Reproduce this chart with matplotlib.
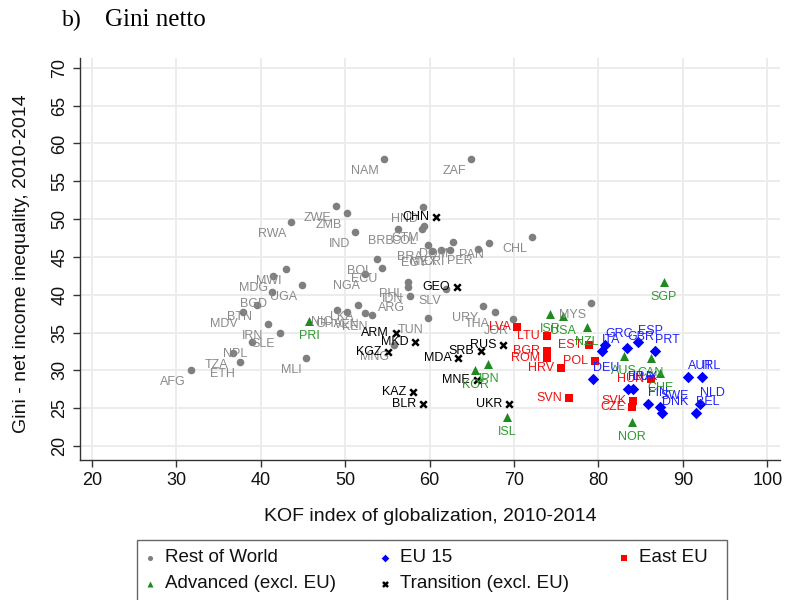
import matplotlib
matplotlib.use('agg')
import matplotlib.pyplot as plt
from matplotlib.patches import Rectangle

# KOF globalization index vs. net Gini, country averages 2010-2014
# Rest of World
row_names = ['AFG', 'TZA', 'ETH', 'NPL', 'MDV', 'BTN', 'IRN', 'SLE', 'BGD', 'MDG',
             'MWI', 'UGA', 'MLI', 'RWA', 'ZWE', 'ZMB', 'IND', 'NAM', 'ZAF', 'HND',
             'BRB', 'COL', 'GTM', 'BRA', 'EGY', 'MEX', 'CRI', 'DOM', 'PER', 'PAN',
             'CHL', 'BOL', 'ECU', 'NGA', 'PHL', 'IDN', 'ARG', 'SLV', 'URY', 'THA',
             'JOR', 'MYS', 'TUN', 'MNG', 'NIC', 'GHA', 'LKA', 'VEN', 'KEN']
row_kof = [31.7, 36.7, 37.5, 39.0, 37.9, 39.5, 40.9, 42.3, 41.3, 41.4,
           43.0, 44.9, 45.4, 43.6, 48.9, 50.2, 51.2, 54.6, 64.9, 59.2,
           56.3, 59.1, 59.3, 59.8, 60.3, 61.4, 62.4, 62.8, 65.7, 67.0,
           72.1, 53.8, 54.4, 52.3, 57.4, 57.4, 57.7, 61.9, 66.3, 67.7,
           69.9, 79.1, 59.8, 55.8, 49.0, 50.2, 51.5, 52.3, 53.2]
row_gini = [30.0, 32.3, 31.1, 33.8, 37.7, 38.7, 36.1, 35.0, 40.3, 42.5,
            43.4, 41.3, 31.6, 49.6, 51.7, 50.8, 48.3, 58.0, 58.0, 51.6,
            48.7, 48.7, 49.1, 46.6, 45.8, 45.9, 45.9, 47.0, 46.0, 46.8,
            47.6, 44.7, 43.6, 42.8, 41.7, 41.0, 39.8, 40.7, 38.5, 37.7,
            36.8, 38.9, 36.9, 33.3, 38.0, 37.7, 38.6, 37.6, 37.3]

# EU 15
eu15_names = ['DEU', 'ITA', 'GRC', 'GBR', 'ESP', 'PRT', 'FRA', 'LUX', 'AUT', 'IRL',
              'FIN', 'SWE', 'DNK', 'NLD', 'BEL']
eu15_kof = [79.4, 80.4, 80.8, 83.4, 84.7, 86.7, 83.5, 84.1, 90.6, 92.3,
            85.9, 87.3, 87.5, 92.0, 91.6]
eu15_gini = [28.9, 32.6, 33.3, 32.9, 33.8, 32.6, 27.6, 27.6, 29.1, 29.1,
             25.5, 25.1, 24.4, 25.5, 24.3]

# East EU
east_names = ['LVA', 'LTU', 'BGR', 'ROM', 'HRV', 'EST', 'POL', 'SVN', 'SVK', 'CZE', 'HUN']
east_kof = [70.4, 73.9, 73.9, 73.9, 75.6, 78.9, 79.6, 76.5, 84.1, 84.0, 86.2]
east_gini = [35.8, 34.5, 32.6, 31.7, 30.3, 33.3, 31.3, 26.3, 25.9, 25.1, 28.8]

# Advanced (excl. EU)
adv_names = ['SGP', 'ISR', 'USA', 'NZL', 'AUS', 'CAN', 'CHE', 'NOR', 'ISL', 'JPN', 'KOR', 'PRI']
adv_kof = [87.7, 74.3, 75.8, 78.6, 83.0, 86.2, 87.3, 84.0, 69.2, 66.9, 65.4, 45.7]
adv_gini = [41.7, 37.4, 37.2, 35.7, 31.9, 31.6, 29.7, 23.2, 23.9, 30.8, 30.0, 36.5]

# Transition (excl. EU)
tr_names = ['CHN', 'GEO', 'ARM', 'MKD', 'KGZ', 'MDA', 'SRB', 'RUS', 'KAZ', 'BLR', 'MNE', 'UKR']
tr_kof = [60.8, 63.2, 56.0, 58.3, 55.1, 63.4, 66.1, 68.7, 58.0, 59.2, 65.6, 69.4]
tr_gini = [50.3, 41.0, 34.9, 33.8, 32.4, 31.7, 32.6, 33.3, 27.1, 25.5, 28.7, 25.5]

legend_labels = ['Rest of World', 'EU 15', 'East EU', 'Advanced (excl. EU)', 'Transition (excl. EU)']

# label placement (offset points, alignment) like Stata clock positions
lab_pos = {
    7: dict(xytext=(-3.5, -8.6), ha='right', va='center'),
    9: dict(xytext=(-5.0, 0.0), ha='right', va='center'),
    6: dict(xytext=(0.0, -10.8), ha='center', va='center'),
    1: dict(xytext=(0.0, 8.0), ha='left', va='center'),
}

sty_row = dict(marker='o', s=30, c='#7f7f7f', lw=0)
sty_tr = dict(marker='x', s=22, c='black', lw=1.8)
sty_adv = dict(marker='^', s=42, c='#1f8a1f', lw=0)
sty_east = dict(marker='s', s=40, c='#ff0000', lw=0)
sty_eu = dict(marker='D', s=34, c='#0000ff', lw=0)

groups = [
    (row_names, row_kof, row_gini, sty_row, '#8a8a8a', 7),
    (tr_names, tr_kof, tr_gini, sty_tr, 'black', 9),
    (adv_names, adv_kof, adv_gini, sty_adv, '#2e9a2e', 6),
    (east_names, east_kof, east_gini, sty_east, '#ee1111', 9),
    (eu15_names, eu15_kof, eu15_gini, sty_eu, '#2222ff', 1),
]

plt.rcParams['font.family'] = ['Liberation Sans', 'DejaVu Sans']

fig = plt.figure(figsize=(7.87, 6.0), dpi=100)
ax = fig.add_axes([80/787, 140/600, 700/787, 402/600])

for names, xs, ys, mk, tcol, pos in groups:
    ax.scatter(xs, ys, zorder=3, **mk)
    for n, x, y in zip(names, xs, ys):
        ax.annotate(n, (x, y), textcoords='offset points', fontsize=9,
                    color=tcol, zorder=4, **lab_pos[pos])

ax.set_xlim(18.58, 101.5)
ax.set_ylim(18.15, 71.3)
ax.set_xticks(range(20, 101, 10))
ax.set_yticks(range(20, 71, 5))
ax.grid(True, color='#ebebeb', lw=1.3, zorder=0)
ax.set_axisbelow(True)
for sp in ['top', 'right']:
    ax.spines[sp].set_visible(False)
for sp in ['left', 'bottom']:
    ax.spines[sp].set_color('#333333')
    ax.spines[sp].set_linewidth(1.0)
ax.tick_params(axis='both', direction='out', length=5, width=1, color='#333333',
               labelsize=13, labelcolor='#111111')
ax.tick_params(axis='y', labelrotation=90)
for t in ax.get_yticklabels():
    t.set_va('center')
ax.set_xlabel('KOF index of globalization, 2010-2014', fontsize=14, color='#111111')
ax.xaxis.set_label_coords(0.5, -(508 - 460) / 402)
ax.set_ylabel('Gini - net income inequality, 2010-2014', fontsize=14, color='#111111')
ax.yaxis.set_label_coords(-(80 - 30) / 700, (460 - 264) / 402)

fig.text(62/787, 1 - 20/600, 'b)', family='Liberation Serif', fontsize=17, va='center')
fig.text(105/787, 1 - 20/600, 'Gini netto', family='Liberation Serif', fontsize=18, va='center')

# legend drawn in pixel coordinates (box is cut by the bottom edge, as in the source)
lg = fig.add_axes([0, 0, 1, 1], zorder=5)
lg.set_xlim(0, 787)
lg.set_ylim(600, 0)
lg.axis('off')
lg.add_patch(Rectangle((137, 540), 590, 70, fill=False, ec='#666666', lw=1.0))
leg_items = [
    (legend_labels[0], sty_row, 150, 558, 0.45),
    (legend_labels[1], sty_eu, 385, 558, 0.45),
    (legend_labels[2], sty_east, 624, 558, 0.45),
    (legend_labels[3], sty_adv, 150, 584, 0.45),
    (legend_labels[4], sty_tr, 385, 584, 0.6),
]
for txt, sty, mx, my, scale in leg_items:
    s2 = dict(sty)
    s2['s'] = sty['s'] * scale
    lg.scatter([mx], [my], **s2)
    lg.text(mx + 15, my, txt, fontsize=13.5, va='center', ha='left', color='#111111')

fig.savefig('out.png', dpi=100, facecolor='white')
